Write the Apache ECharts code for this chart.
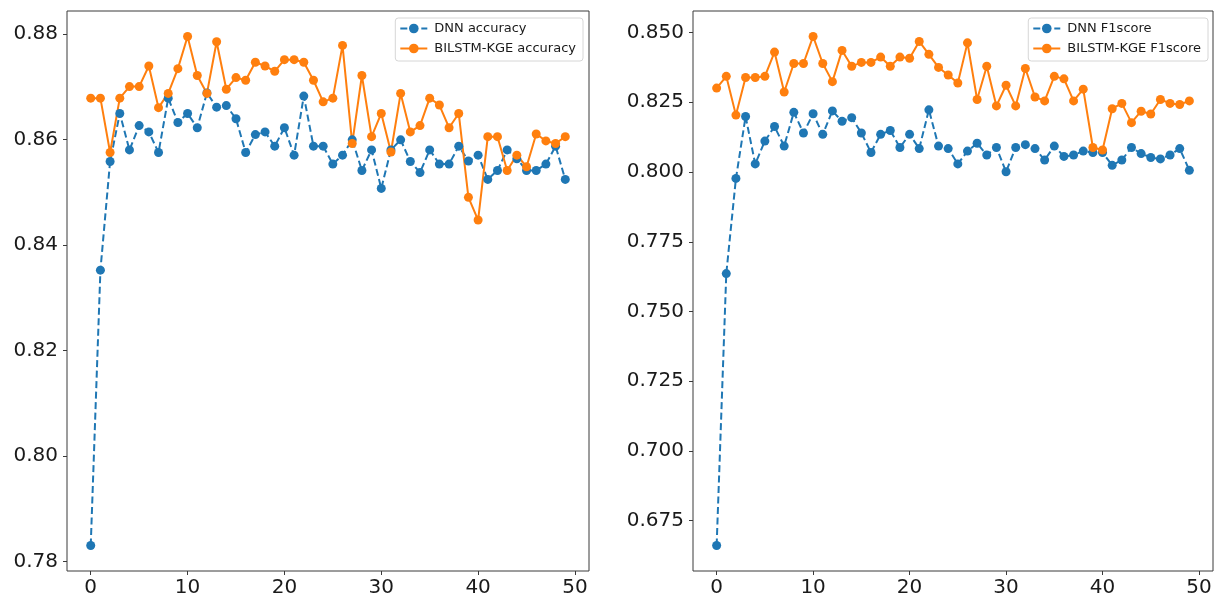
<!DOCTYPE html>
<html>
<head>
<meta charset="utf-8">
<script src="https://cdn.jsdelivr.net/npm/echarts@6/dist/echarts.min.js"></script>
<style>
  html, body { margin: 0; padding: 0; background: #fff; }
  #chart { width: 1215px; height: 598px; }
</style>
</head>
<body>
<div id="chart"></div>
<script>
// Training curves per epoch: accuracy (left panel) and F1 score (right panel)
const epochs = Array.from({ length: 50 }, (_, i) => i);

const dnnAccuracy = [
  0.7830, 0.8352, 0.8558, 0.8649, 0.8580, 0.8626, 0.8614, 0.8575, 0.8678, 0.8632,
  0.8649, 0.8622, 0.8688, 0.8661, 0.8664, 0.8639, 0.8575, 0.8609, 0.8614, 0.8587,
  0.8622, 0.8570, 0.8682, 0.8587, 0.8587, 0.8553, 0.8570, 0.8599, 0.8541, 0.8580,
  0.8507, 0.8580, 0.8599, 0.8558, 0.8537, 0.8580, 0.8553, 0.8553, 0.8587, 0.8559,
  0.8570, 0.8524, 0.8541, 0.8580, 0.8563, 0.8541, 0.8541, 0.8553, 0.8587, 0.8524
];
const bilstmAccuracy = [
  0.8678, 0.8678, 0.8575, 0.8678, 0.8700, 0.8700, 0.8739, 0.8660, 0.8687, 0.8734,
  0.8795, 0.8721, 0.8687, 0.8785, 0.8695, 0.8717, 0.8712, 0.8746, 0.8739, 0.8729,
  0.8751, 0.8751, 0.8746, 0.8712, 0.8671, 0.8678, 0.8778, 0.8592, 0.8721, 0.8605,
  0.8649, 0.8576, 0.8687, 0.8614, 0.8626, 0.8678, 0.8665, 0.8622, 0.8649, 0.8490,
  0.8447, 0.8605, 0.8605, 0.8541, 0.8570, 0.8548, 0.8610, 0.8597, 0.8592, 0.8605
];
const dnnF1 = [
  0.6661, 0.7636, 0.7977, 0.8199, 0.8029, 0.8111, 0.8163, 0.8093, 0.8214, 0.8140,
  0.8209, 0.8135, 0.8219, 0.8182, 0.8195, 0.8140, 0.8070, 0.8135, 0.8149, 0.8088,
  0.8135, 0.8084, 0.8223, 0.8093, 0.8084, 0.8029, 0.8075, 0.8103, 0.8061, 0.8088,
  0.8001, 0.8088, 0.8098, 0.8084, 0.8043, 0.8093, 0.8056, 0.8061, 0.8075, 0.8070,
  0.8070, 0.8024, 0.8043, 0.8088, 0.8066, 0.8052, 0.8047, 0.8061, 0.8084, 0.8006
];
const bilstmF1 = [
  0.8301, 0.8343, 0.8204, 0.8339, 0.8339, 0.8343, 0.8430, 0.8287, 0.8389, 0.8389,
  0.8486, 0.8389, 0.8324, 0.8436, 0.8379, 0.8393, 0.8393, 0.8412, 0.8379, 0.8412,
  0.8408, 0.8468, 0.8422, 0.8375, 0.8348, 0.8319, 0.8463, 0.8260, 0.8379, 0.8237,
  0.8311, 0.8237, 0.8371, 0.8269, 0.8255, 0.8343, 0.8334, 0.8255, 0.8297, 0.8088,
  0.8079, 0.8227, 0.8246, 0.8177, 0.8218, 0.8208, 0.8260, 0.8246, 0.8242, 0.8255
];

const xTicks = [0, 10, 20, 30, 40, 50];
const accTicks = [0.78, 0.80, 0.82, 0.84, 0.86, 0.88];
const f1Ticks = [0.675, 0.700, 0.725, 0.750, 0.775, 0.800, 0.825, 0.850];

const seriesNames = {
  dnnAcc: 'DNN accuracy',
  bilstmAcc: 'BILSTM-KGE accuracy',
  dnnF1: 'DNN F1score',
  bilstmF1: 'BILSTM-KGE F1score'
};

const BLUE = '#1f77b4';
const ORANGE = '#ff7f0e';
const FRAME = '#3a3a3a';
const FONT = 'DejaVu Sans';

// 5% padding on each side of the data range
function paddedRange(lo, hi) {
  const m = (hi - lo) * 0.05;
  return [lo - m, hi + m];
}
const xRange = paddedRange(epochs[0], epochs[epochs.length - 1]);
const accRange = paddedRange(
  Math.min(...dnnAccuracy, ...bilstmAccuracy),
  Math.max(...dnnAccuracy, ...bilstmAccuracy)
);
const f1Range = paddedRange(
  Math.min(...dnnF1, ...bilstmF1),
  Math.max(...dnnF1, ...bilstmF1)
);

const pairs = (vals) => vals.map((v, i) => [epochs[i], v]);

function xAxis(gridIndex) {
  return {
    type: 'value', gridIndex, min: xRange[0], max: xRange[1],
    splitLine: { show: false },
    axisLine: { show: false, onZero: false },
    axisTick: { show: true, length: 4, lineStyle: { color: FRAME, width: 1 }, customValues: xTicks },
    axisLabel: { customValues: xTicks, fontFamily: FONT, fontSize: 20, color: '#1a1a1a', margin: 7 }
  };
}
function yAxis(gridIndex, range, ticks, digits) {
  return {
    type: 'value', gridIndex, min: range[0], max: range[1],
    splitLine: { show: false },
    axisLine: { show: false, onZero: false },
    axisTick: { show: true, length: 4, lineStyle: { color: FRAME, width: 1 }, customValues: ticks },
    axisLabel: {
      customValues: ticks, fontFamily: FONT, fontSize: 20, color: '#1a1a1a', margin: 9,
      formatter: (v) => v.toFixed(digits)
    }
  };
}
function lineSeries(name, vals, color, dashed, idx) {
  return {
    name, type: 'line', xAxisIndex: idx, yAxisIndex: idx,
    data: pairs(vals),
    symbol: 'circle', symbolSize: 9,
    itemStyle: { color },
    lineStyle: { color, width: 2, type: dashed ? [7, 3.5] : 'solid' },
    emphasis: { disabled: true },
    animation: false
  };
}
function legend(names, right) {
  return {
    data: names, orient: 'vertical', right, top: 18,
    itemWidth: 27, itemHeight: 12, itemGap: 7,
    padding: [4, 7, 6, 4],
    backgroundColor: 'rgba(255,255,255,0.8)',
    borderColor: '#d6d6d6', borderWidth: 1, borderRadius: 3,
    textStyle: { fontFamily: FONT, fontSize: 13, color: '#1a1a1a', padding: [0, 0, 0, 2] },
    align: 'left'
  };
}

const chart = echarts.init(document.getElementById('chart'), null, { renderer: 'canvas' });
chart.setOption({
  backgroundColor: '#fff',
  animation: false,
  grid: [
    { left: 67, top: 11, width: 522, height: 560, show: true, borderColor: FRAME, borderWidth: 1, backgroundColor: 'transparent' },
    { left: 693, top: 11, width: 520, height: 560, show: true, borderColor: FRAME, borderWidth: 1, backgroundColor: 'transparent' }
  ],
  xAxis: [xAxis(0), xAxis(1)],
  yAxis: [yAxis(0, accRange, accTicks, 2), yAxis(1, f1Range, f1Ticks, 3)],
  legend: [
    legend([seriesNames.dnnAcc, seriesNames.bilstmAcc], 632),
    legend([seriesNames.dnnF1, seriesNames.bilstmF1], 7)
  ],
  series: [
    lineSeries(seriesNames.dnnAcc, dnnAccuracy, BLUE, true, 0),
    lineSeries(seriesNames.bilstmAcc, bilstmAccuracy, ORANGE, false, 0),
    lineSeries(seriesNames.dnnF1, dnnF1, BLUE, true, 1),
    lineSeries(seriesNames.bilstmF1, bilstmF1, ORANGE, false, 1)
  ]
});
</script>
</body>
</html>
